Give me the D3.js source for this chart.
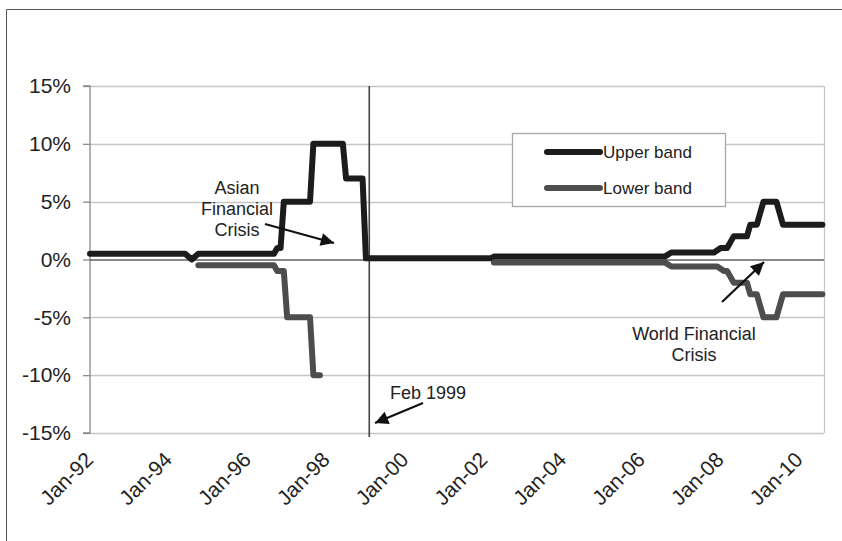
<!DOCTYPE html>
<html>
<head>
<meta charset="utf-8">
<script src="https://cdn.jsdelivr.net/npm/d3@7"></script>
<style>
  html, body { margin: 0; padding: 0; background: #fff; }
  svg { display: block; font-family: "Liberation Sans", Arial, sans-serif; }
</style>
</head>
<body>
<svg id="chart" width="842" height="541"></svg>
<script>
// ---- data ----
const upperDates  = ["1992-01","1994-06","1994-08","1994-10","1996-09","1996-10","1996-11","1996-12","1997-08","1997-09","1998-06","1998-07","1998-12","1999-01","2002-03","2002-04","2006-08","2006-10","2007-11","2008-01","2008-03","2008-05","2008-09","2008-10","2008-12","2009-02","2009-06","2009-08","2010-08"];
const upperValues = [0.5, 0.5, 0, 0.5, 0.5, 1, 1, 5, 5, 10, 10, 7, 7, 0.1, 0.1, 0.25, 0.25, 0.6, 0.6, 1, 1, 2, 2, 3, 3, 5, 5, 3, 3];
const lowerDates  = ["1994-10","1996-09","1996-10","1996-12","1997-01","1997-08","1997-09","1997-11"];
const lowerValues = [-0.5, -0.5, -1, -1, -5, -5, -10, -10];
const lowerDates2  = ["2002-04","2006-08","2006-10","2007-12","2008-02","2008-03","2008-05","2008-09","2008-10","2008-12","2009-02","2009-06","2009-08","2010-08"];
const lowerValues2 = [-0.25, -0.25, -0.6, -0.6, -1, -1, -2, -2, -3, -3, -5, -5, -3, -3];
const yTicks = [15, 10, 5, 0, -5, -10, -15];
const xTickYears = [1992, 1994, 1996, 1998, 2000, 2002, 2004, 2006, 2008, 2010];
const seriesNames = ["Upper band", "Lower band"];
const seriesColors = ["#1c1c1c", "#4d4d4d"];
const annotations = [
  {lines: ["Asian", "Financial", "Crisis"], x: 237, y: 188, from: [265, 224], to: [334, 243]},
  {lines: ["Feb 1999"], x: 428, y: 393, from: [423, 403], to: [375, 423]},
  {lines: ["World Financial", "Crisis"], x: 694, y: 334, from: [722, 302], to: [764, 262]}
];

// ---- layout ----
const svg = d3.select("#chart");
const parse = d3.timeParse("%Y-%m");
const pLeft = 90, pRight = 824, pTop = 86, pBottom = 433;

const x = d3.scaleTime()
  .domain([new Date(1992, 0, 1), new Date(2010, 7, 16)])
  .range([pLeft, pRight]);
const y = d3.scaleLinear().domain([-15, 15]).range([pBottom, pTop]);

// outer frame
svg.append("path").attr("d", "M6.5,560 V9.5 H860")
  .attr("fill", "none").attr("stroke", "#555").attr("stroke-width", 1);

// gridlines
svg.append("g").selectAll("line").data(yTicks.filter(d => d !== 0)).join("line")
  .attr("x1", pLeft).attr("x2", pRight)
  .attr("y1", d => Math.round(y(d)) + 0.5).attr("y2", d => Math.round(y(d)) + 0.5)
  .attr("stroke", "#c6c6c6").attr("stroke-width", 1.3);
// right border of plot area
svg.append("line").attr("x1", pRight + 0.5).attr("x2", pRight + 0.5)
  .attr("y1", pTop).attr("y2", pBottom).attr("stroke", "#c6c6c6").attr("stroke-width", 1.3);

// y axis
const yAxis = d3.axisLeft(y).tickValues(yTicks).tickSize(7).tickPadding(12)
  .tickFormat(d => d + "%");
const gy = svg.append("g").attr("transform", `translate(${pLeft},0)`).call(yAxis);
gy.select(".domain").attr("stroke", "#8a8a8a").attr("stroke-width", 1.3).attr("d", `M-7,${pTop}H0V${pBottom}H-7`);
gy.selectAll(".tick line").attr("stroke", "#8a8a8a").attr("stroke-width", 1.3);
gy.selectAll(".tick text").attr("font-size", 21).attr("fill", "#222")
  .attr("font-family", "Liberation Sans, Arial, sans-serif");

// x axis (labels only, at the bottom)
const xAxis = d3.axisBottom(x)
  .tickValues(xTickYears.map(yr => new Date(yr, 0, 1)))
  .tickSize(0).tickFormat(d3.timeFormat("%b-%y"));
const gx = svg.append("g").attr("transform", `translate(0,${pBottom})`).call(xAxis);
gx.select(".domain").remove();
gx.selectAll(".tick text")
  .attr("font-size", 21).attr("fill", "#222")
  .attr("font-family", "Liberation Sans, Arial, sans-serif")
  .attr("text-anchor", "end")
  .attr("dy", null).attr("y", 0)
  .attr("transform", "translate(4,28) rotate(-45)");

// zero line
svg.append("line").attr("x1", pLeft).attr("x2", pRight)
  .attr("y1", y(0) + 0.5).attr("y2", y(0) + 0.5)
  .attr("stroke", "#111").attr("stroke-width", 1);

// Feb 1999 vertical line
const feb99 = parse("1999-02");
svg.append("line").attr("x1", x(feb99)).attr("x2", x(feb99))
  .attr("y1", pTop).attr("y2", pBottom + 4)
  .attr("stroke", "#444").attr("stroke-width", 1.6);

// series lines
const line = d3.line().x(d => x(d.date)).y(d => y(d.value));
function pts(dates, values) { return dates.map((d, i) => ({date: parse(d), value: values[i]})); }
const seriesData = [
  [pts(upperDates, upperValues)],
  [pts(lowerDates, lowerValues), pts(lowerDates2, lowerValues2)]
];
seriesData.forEach((segs, si) => {
  segs.forEach(seg => {
    svg.append("path").datum(seg).attr("d", line)
      .attr("fill", "none").attr("stroke", seriesColors[si])
      .attr("stroke-width", 6).attr("stroke-linejoin", "round").attr("stroke-linecap", "round");
  });
});

// legend
const lg = svg.append("g");
lg.append("rect").attr("x", 512.5).attr("y", 133.5).attr("width", 213).attr("height", 73)
  .attr("fill", "#fff").attr("stroke", "#a8a8a8").attr("stroke-width", 1.3);
seriesNames.forEach((name, i) => {
  const ly = 152 + i * 36;
  lg.append("line").attr("x1", 547).attr("x2", 600).attr("y1", ly).attr("y2", ly)
    .attr("stroke", seriesColors[i]).attr("stroke-width", 6).attr("stroke-linecap", "round");
  lg.append("text").attr("x", 603).attr("y", ly).attr("dy", "0.35em")
    .attr("font-size", 17).attr("fill", "#222").text(name);
});

// annotations
svg.append("defs").append("marker").attr("id", "arrow")
  .attr("viewBox", "0 0 10 10").attr("refX", 10).attr("refY", 5)
  .attr("markerWidth", 7).attr("markerHeight", 6).attr("markerUnits", "strokeWidth")
  .attr("orient", "auto")
  .append("path").attr("d", "M0,0 L10,5 L0,10 Z").attr("fill", "#111");
annotations.forEach(a => {
  const t = svg.append("text").attr("text-anchor", "middle").attr("font-size", 18).attr("fill", "#222");
  a.lines.forEach((ln, i) => {
    t.append("tspan").attr("x", a.x).attr("y", a.y + i * 21).attr("dy", "0.35em").text(ln);
  });
  svg.append("line").attr("x1", a.from[0]).attr("y1", a.from[1])
    .attr("x2", a.to[0]).attr("y2", a.to[1])
    .attr("stroke", "#111").attr("stroke-width", 2.2).attr("marker-end", "url(#arrow)");
});
</script>
</body>
</html>
